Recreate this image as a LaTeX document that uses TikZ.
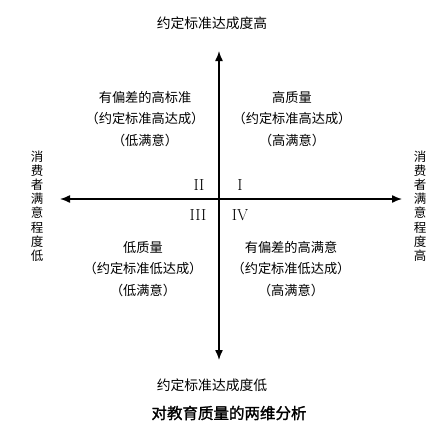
\documentclass[tikz,border=0pt]{standalone}
\usepackage{fontspec}
\usetikzlibrary{arrows.meta,positioning}
\newfontfamily\cjk{Noto Sans CJK SC}
\newfontfamily\cjkbold[FakeBold=1.5]{Noto Sans CJK SC}

\begin{document}
\begin{tikzpicture}[
  x=1pt, y=-1pt,
  axis/.style={{Latex[length=10pt,width=8pt]}-{Latex[length=10pt,width=8pt]}, line width=1.4pt},
  quad/.style={font=\cjk\fontsize{13.2}{21.5}\selectfont, align=center},
  axislabel/.style={font=\cjk\fontsize{13.8}{16}\selectfont},
  sidelabel/.style={font=\cjk\fontsize{12.5}{14.2}\selectfont, align=center},
  numeral/.style={font=\fontsize{16}{18}\selectfont},
  caption/.style={font=\cjkbold\fontsize{15.5}{18}\selectfont}
]
\useasboundingbox (0,0) rectangle (446,434);

% axes
\coordinate (top) at (219,51);
\coordinate (bottom) at (219,360);
\coordinate (left) at (60,199);
\coordinate (right) at (402,199);
\draw[axis] (bottom) -- (top);
\draw[axis] (left) -- (right);

% axis labels
\node[axislabel] (high) at (212,23) {约定标准达成度高};
\node[axislabel] (low) at (212,385) {约定标准达成度低};
\node[sidelabel] (lowsat) at (37,206) {消\\费\\者\\满\\意\\程\\度\\低};
\node[sidelabel] (highsat) at (420,206) {消\\费\\者\\满\\意\\程\\度\\高};

% quadrants
\node[quad] (q2) at (145,119) {有偏差的高标准\\（约定标准高达成）\\（低满意）};
\node[quad] (q1) at (292,119) {高质量\\（约定标准高达成）\\（高满意）};
\node[quad] (q3) at (143,269) {低质量\\（约定标准低达成）\\（低满意）};
\node[quad] (q4) at (291,269) {有偏差的高满意\\（约定标准低达成）\\（高满意）};

\node[numeral] (n2) at (199,185) {II};
\node[numeral] (n1) at (240,185) {I};
\node[numeral] (n3) at (198,215) {III};
\node[numeral] (n4) at (240,215) {IV};

\node[caption] (title) at (229,413) {对教育质量的两维分析};
\end{tikzpicture}
\end{document}
